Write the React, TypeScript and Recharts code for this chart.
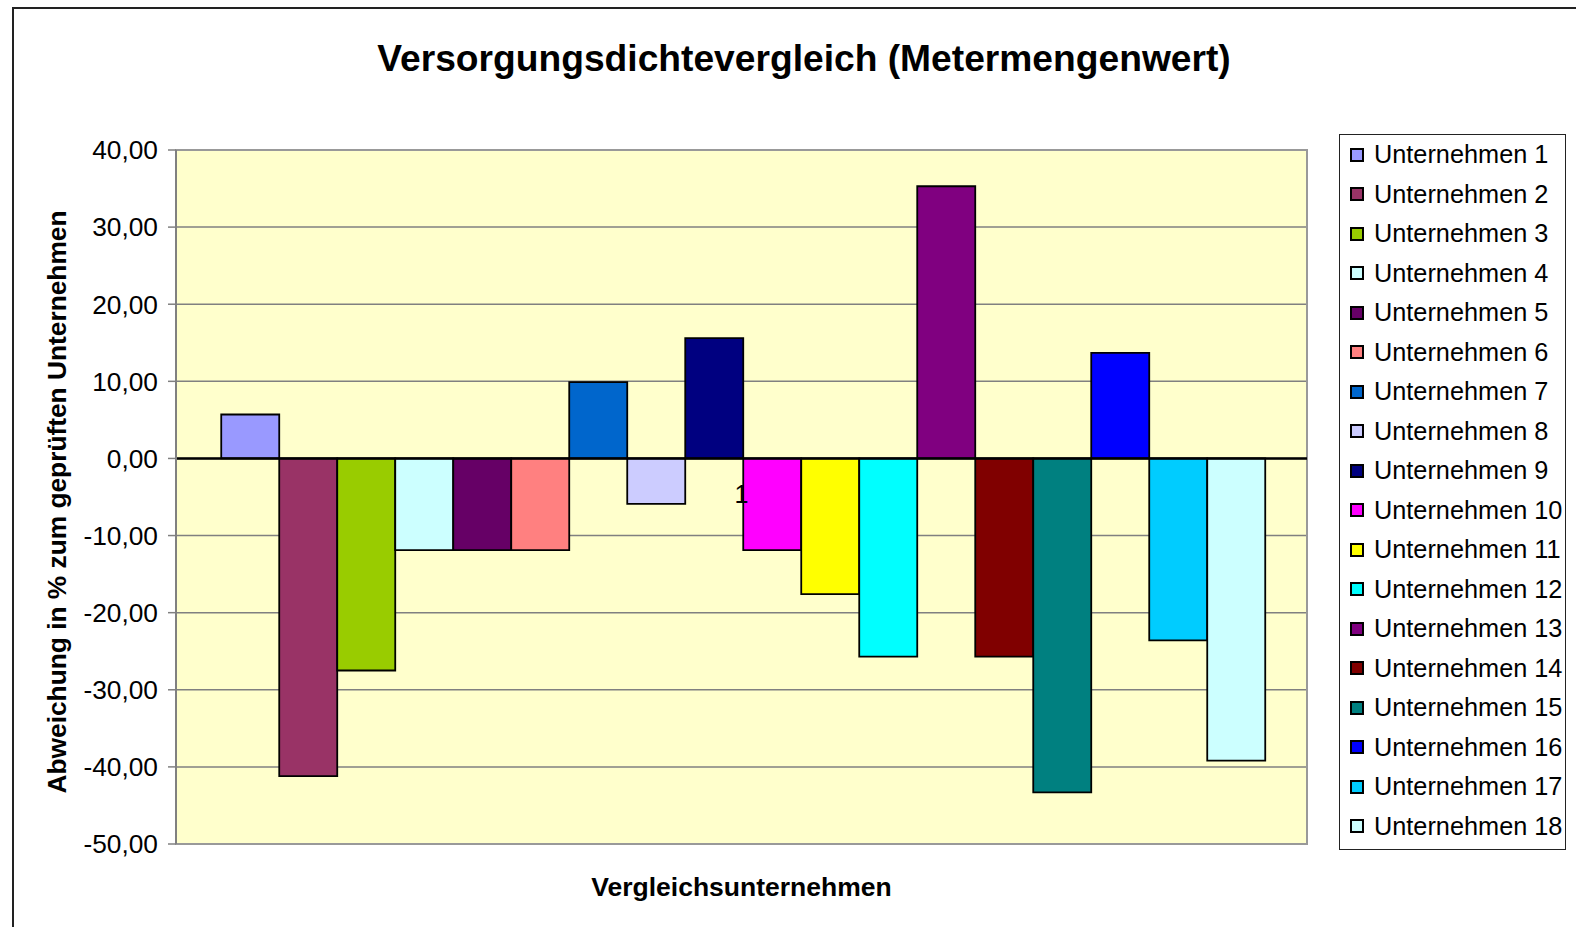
import React from "react";
import {
  BarChart,
  Bar,
  XAxis,
  YAxis,
  CartesianGrid,
  ReferenceLine,
  ReferenceArea,
  Legend,
} from "recharts";

const categories = ["1"];

const seriesNames = [
  "Unternehmen 1",
  "Unternehmen 2",
  "Unternehmen 3",
  "Unternehmen 4",
  "Unternehmen 5",
  "Unternehmen 6",
  "Unternehmen 7",
  "Unternehmen 8",
  "Unternehmen 9",
  "Unternehmen 10",
  "Unternehmen 11",
  "Unternehmen 12",
  "Unternehmen 13",
  "Unternehmen 14",
  "Unternehmen 15",
  "Unternehmen 16",
  "Unternehmen 17",
  "Unternehmen 18",
];

const seriesValues = [
  5.7, -41.2, -27.5, -11.9, -11.9, -11.9, 9.9, -5.9, 15.6, -11.9, -17.6,
  -25.7, 35.3, -25.7, -43.3, 13.7, -23.6, -39.2,
];

const seriesColors = [
  "#9999FF",
  "#993366",
  "#99CC00",
  "#CCFFFF",
  "#660066",
  "#FF8080",
  "#0066CC",
  "#CCCCFF",
  "#000080",
  "#FF00FF",
  "#FFFF00",
  "#00FFFF",
  "#800080",
  "#800000",
  "#008080",
  "#0000FF",
  "#00CCFF",
  "#CCFFFF",
];

const yTicks = [40, 30, 20, 10, 0, -10, -20, -30, -40, -50];

const FONT = "'Liberation Sans', Arial, sans-serif";
const Y_MIN = -50;
const Y_MAX = 40;
const PLOT_TOP = 150;
const PLOT_H = 694;
const ZERO_Y = PLOT_TOP + (PLOT_H * Y_MAX) / (Y_MAX - Y_MIN);

const data = categories.map((name) => {
  const row: { [key: string]: string | number } = { name };
  seriesValues.forEach((v, i) => {
    row[`s${i}`] = v;
  });
  return row;
});

const fmt = (v: number) => v.toFixed(2).replace(".", ",");

// category label sits under the zero line, like the Excel axis crossing
const CategoryTick = (props: any) => (
  <text
    x={props.x}
    y={ZERO_Y + 45}
    textAnchor='middle'
    fontSize={25}
    fontFamily={FONT}
    fill='#000'
  >
    {props.payload.value}
  </text>
);

const YAxisTitle = (props: any) => {
  const { viewBox } = props;
  const cx = 57;
  const cy = viewBox.y + viewBox.height / 2 + 5;
  return (
    <text
      x={cx}
      y={cy}
      transform={`rotate(-90, ${cx}, ${cy})`}
      textAnchor='middle'
      dominantBaseline='central'
      fontSize={26.3}
      fontWeight='bold'
      fontFamily={FONT}
      fill='#000'
    >
      Abweichung in % zum geprüften Unternehmen
    </text>
  );
};

const XAxisTitle = (props: any) => {
  const { viewBox } = props;
  return (
    <text
      x={viewBox.x + viewBox.width / 2}
      y={viewBox.y + 43}
      textAnchor='middle'
      dominantBaseline='central'
      fontSize={26.5}
      fontWeight='bold'
      fontFamily={FONT}
      fill='#000'
    >
      Vergleichsunternehmen
    </text>
  );
};

const LegendBox = () => (
  <div
    style={{
      border: "1.5px solid #222",
      background: "#fff",
      boxSizing: "border-box",
      width: "100%",
      height: "100%",
      fontFamily: FONT,
    }}
  >
    {seriesNames.map((name, i) => (
      <div
        key={name}
        style={{
          height: 39.5,
          display: "flex",
          alignItems: "center",
          paddingLeft: 10,
        }}
      >
        <span
          style={{
            width: 14,
            height: 14,
            background: seriesColors[i],
            border: "2px solid #000",
            boxSizing: "border-box",
            marginRight: 10,
            flexShrink: 0,
          }}
        />
        <span style={{ fontSize: 25.3, color: "#000", whiteSpace: "nowrap" }}>
          {name}
        </span>
      </div>
    ))}
  </div>
);

export default function App() {
  return (
    <div
      style={{
        position: "absolute",
        left: 0,
        top: 0,
        width: 1576,
        height: 927,
        background: "#fff",
        overflow: "hidden",
      }}
    >
      <div
        style={{
          position: "absolute",
          left: 12,
          top: 7,
          width: 1600,
          height: 960,
          borderTop: "2px solid #222",
          borderLeft: "2px solid #222",
        }}
      />
      <div
        style={{
          position: "absolute",
          left: 804,
          top: 40,
          transform: "translateX(-50%)",
          fontFamily: FONT,
          fontSize: 37.2,
          fontWeight: "bold",
          lineHeight: 1,
          whiteSpace: "nowrap",
          color: "#000",
        }}
      >
        Versorgungsdichtevergleich (Metermengenwert)
      </div>
      <BarChart
        width={1576}
        height={927}
        data={data}
        margin={{ top: PLOT_TOP, right: 269, bottom: 33, left: 0 }}
        barCategoryGap='4%'
        barGap={0}
      >
        <CartesianGrid
          vertical={false}
          stroke='#808080'
          strokeWidth={1.5}
          fill='#FFFFCC'
          fillOpacity={1}
        />
        <ReferenceArea
          y1={Y_MIN}
          y2={Y_MAX}
          fill='none'
          stroke='#999'
          strokeWidth={2}
        />
        <XAxis
          dataKey='name'
          height={50}
          axisLine={false}
          tickLine={false}
          tick={<CategoryTick />}
          label={<XAxisTitle />}
        />
        <YAxis
          width={176}
          domain={[Y_MIN, Y_MAX]}
          ticks={yTicks}
          interval={0}
          tickFormatter={fmt}
          tick={{ fontSize: 26.3, fill: "#000", fontFamily: FONT }}
          axisLine={{ stroke: "#808080", strokeWidth: 2 }}
          tickLine={{ stroke: "#808080", strokeWidth: 1.5 }}
          tickSize={8}
          tickMargin={10}
          label={<YAxisTitle />}
        />
        {seriesNames.map((name, i) => (
          <Bar
            key={name}
            dataKey={`s${i}`}
            name={name}
            fill={seriesColors[i]}
            stroke='#000'
            strokeWidth={1.8}
            isAnimationActive={false}
          />
        ))}
        <ReferenceLine y={0} stroke='#000' strokeWidth={2.5} />
        <Legend
          layout='vertical'
          align='center'
          verticalAlign='middle'
          wrapperStyle={{
            position: "absolute",
            left: 1339,
            top: 134,
            width: 227,
            height: 716,
          }}
          content={<LegendBox />}
        />
      </BarChart>
    </div>
  );
}
